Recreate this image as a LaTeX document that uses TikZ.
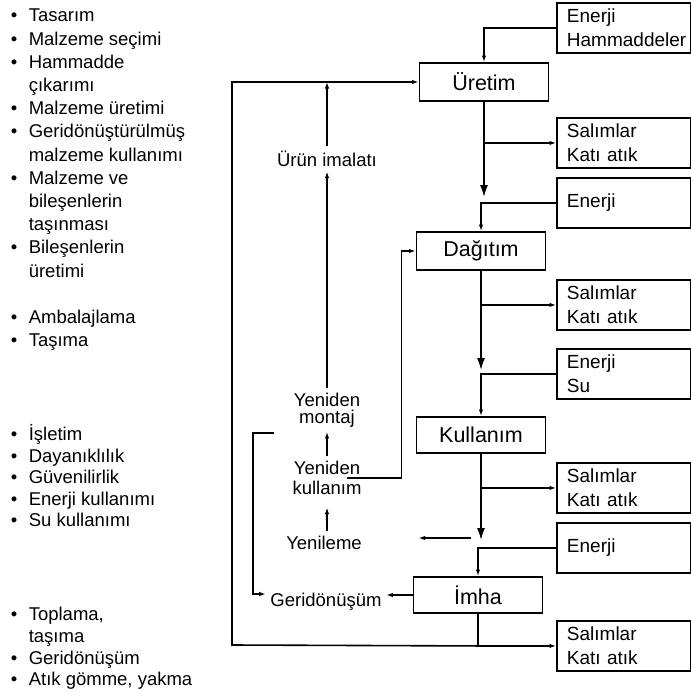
\documentclass[tikz,border=0pt]{standalone}
\usepackage{fontspec}
\setmainfont{Liberation Sans}
\usepackage{tikz}
\usetikzlibrary{arrows.meta}

\newcommand{\blt}{\makebox[18pt][l]{\textbullet}}
\newcommand{\cnt}{\hspace*{18pt}}

\begin{document}
\begin{tikzpicture}[x=1pt,y=-1pt,>={Latex[length=6.5pt,width=4.5pt]},line width=1.6pt,
  stage/.style={draw,line width=1.9pt,minimum width=129pt,minimum height=38pt,inner sep=0pt,font=\fontsize{21.5}{24}\selectfont},
  side/.style={draw,line width=1.9pt,anchor=north west,text width=114pt,inner xsep=10pt,inner ysep=3pt,minimum height=50pt,align=left,font=\fontsize{19}{24}\selectfont},
  lbl/.style={align=center,inner sep=4pt,font=\fontsize{18.5}{20}\selectfont},
  bullets/.style={anchor=north west,inner sep=0pt,align=left},
  big/.style={-{Latex[length=12pt,width=8pt]}}]
  \useasboundingbox (0,0) rectangle (691,697);

  \node[bullets,font=\fontsize{18.5}{23.2}\selectfont] (tasarim) at (10,4.8)
    {\strut\blt Tasarım\\ \blt Malzeme seçimi\\ \blt Hammadde\\ \cnt çıkarımı\\
     \blt Malzeme üretimi\\ \blt Geridönüştürülmüş\\ \cnt malzeme kullanımı\\
     \blt Malzeme ve\\ \cnt bileşenlerin\\ \cnt taşınması\\ \blt Bileşenlerin\\ \cnt üretimi};
  \node[bullets,font=\fontsize{18.5}{23}\selectfont] (ambalaj) at (10,306.9)
    {\strut\blt Ambalajlama\\ \blt Taşıma};
  \node[bullets,font=\fontsize{18.5}{21.5}\selectfont] (isletim) at (10,424)
    {\strut\blt İşletim\\ \blt Dayanıklılık\\ \blt Güvenilirlik\\ \blt Enerji kullanımı\\ \blt Su kullanımı};
  \node[bullets,font=\fontsize{18.5}{21.7}\selectfont] (toplama) at (10,604.8)
    {\strut\blt Toplama,\\ \cnt taşıma\\ \blt Geridönüşüm\\ \blt Atık gömme, yakma};

  \node[stage] (uretim) at (484,82) {Üretim};
  \node[stage] (dagitim) at (481,251) {Dağıtım};
  \node[stage,minimum height=36pt] (kullanim) at (481,435) {Kullanım};
  \node[stage,minimum height=36pt] (imha) at (478,595) {İmha};

  \node[side] (enham) at (556,2) {Enerji\\Hammaddeler};
  \node[side] (salim1) at (556,117) {Salımlar\\Katı atık};
  \node[side] (enerji1) at (556,177) {Enerji};
  \node[side] (salim2) at (556,279) {Salımlar\\Katı atık};
  \node[side] (enersu) at (556,348) {Enerji\\Su};
  \node[side] (salim3) at (556,462) {Salımlar\\Katı atık};
  \node[side] (enerji2) at (556,522) {Enerji};
  \node[side] (salim4) at (556,620) {Salımlar\\Katı atık};

  \node[lbl] (urun) at (327,159) {Ürün imalatı};
  \node[lbl,font=\fontsize{18.5}{17}\selectfont] (montaj) at (327,410) {Yeniden\\montaj};
  \node[lbl] (yenkul) at (327,478) {Yeniden\\kullanım};
  \node[lbl] (yenileme) at (324,543) {Yenileme};
  \node[lbl] (geri) at (326,602) {Geridönüşüm};

  \coordinate (tip1) at (483,197);
  \coordinate (tip2) at (481,370);
  \coordinate (tip3) at (481,540);
  \coordinate (loop) at (232,645);
  \coordinate (brk) at (274,433);
  \coordinate (yen) at (471,538);

  \draw[->] (enham.west) -| (uretim.north);
  \draw[big] (uretim.south) -- (uretim.south |- tip1);
  \draw[->] (uretim.south |- salim1.west) -- (salim1.west);
  \draw[->] (enerji1.west) -| (dagitim.north);
  \draw[big] (dagitim.south) -- (dagitim.south |- tip2);
  \draw[->] (dagitim.south |- salim2.west) -- (salim2.west);
  \draw[->] (enersu.west) -| (kullanim.north);
  \draw[big] (kullanim.south) -- (kullanim.south |- tip3);
  \draw[->] (kullanim.south |- salim3.west) -- (salim3.west);
  \draw[->] (enerji2.west) -| (imha.north);
  \draw[->] (imha.south) |- (salim4.west);
  \draw[->] (imha.south |- salim4.west) -- (loop) |- (uretim.west);

  \draw[->] (urun.north) -- (urun.north |- uretim.west);
  \draw[->] (montaj.north) -- (urun.south);
  \draw[->] (yenkul.north) -- (montaj.south);
  \draw[->,shorten >=8pt] (yenkul.south |- yenileme.north) -- (yenkul.south);
  \draw[->] ([xshift=20pt]yenkul.center) -| ([xshift=-14pt]dagitim.west) -- (dagitim.west);
  \draw[->] (brk) -- ++(-21,0) |- ([yshift=8pt]geri.west);
  \draw[->] (imha.west) -- (imha.west -| geri.east);
  \draw[->,shorten >=52pt] (yen) -- (yen -| yenileme.east);
\end{tikzpicture}
\end{document}
